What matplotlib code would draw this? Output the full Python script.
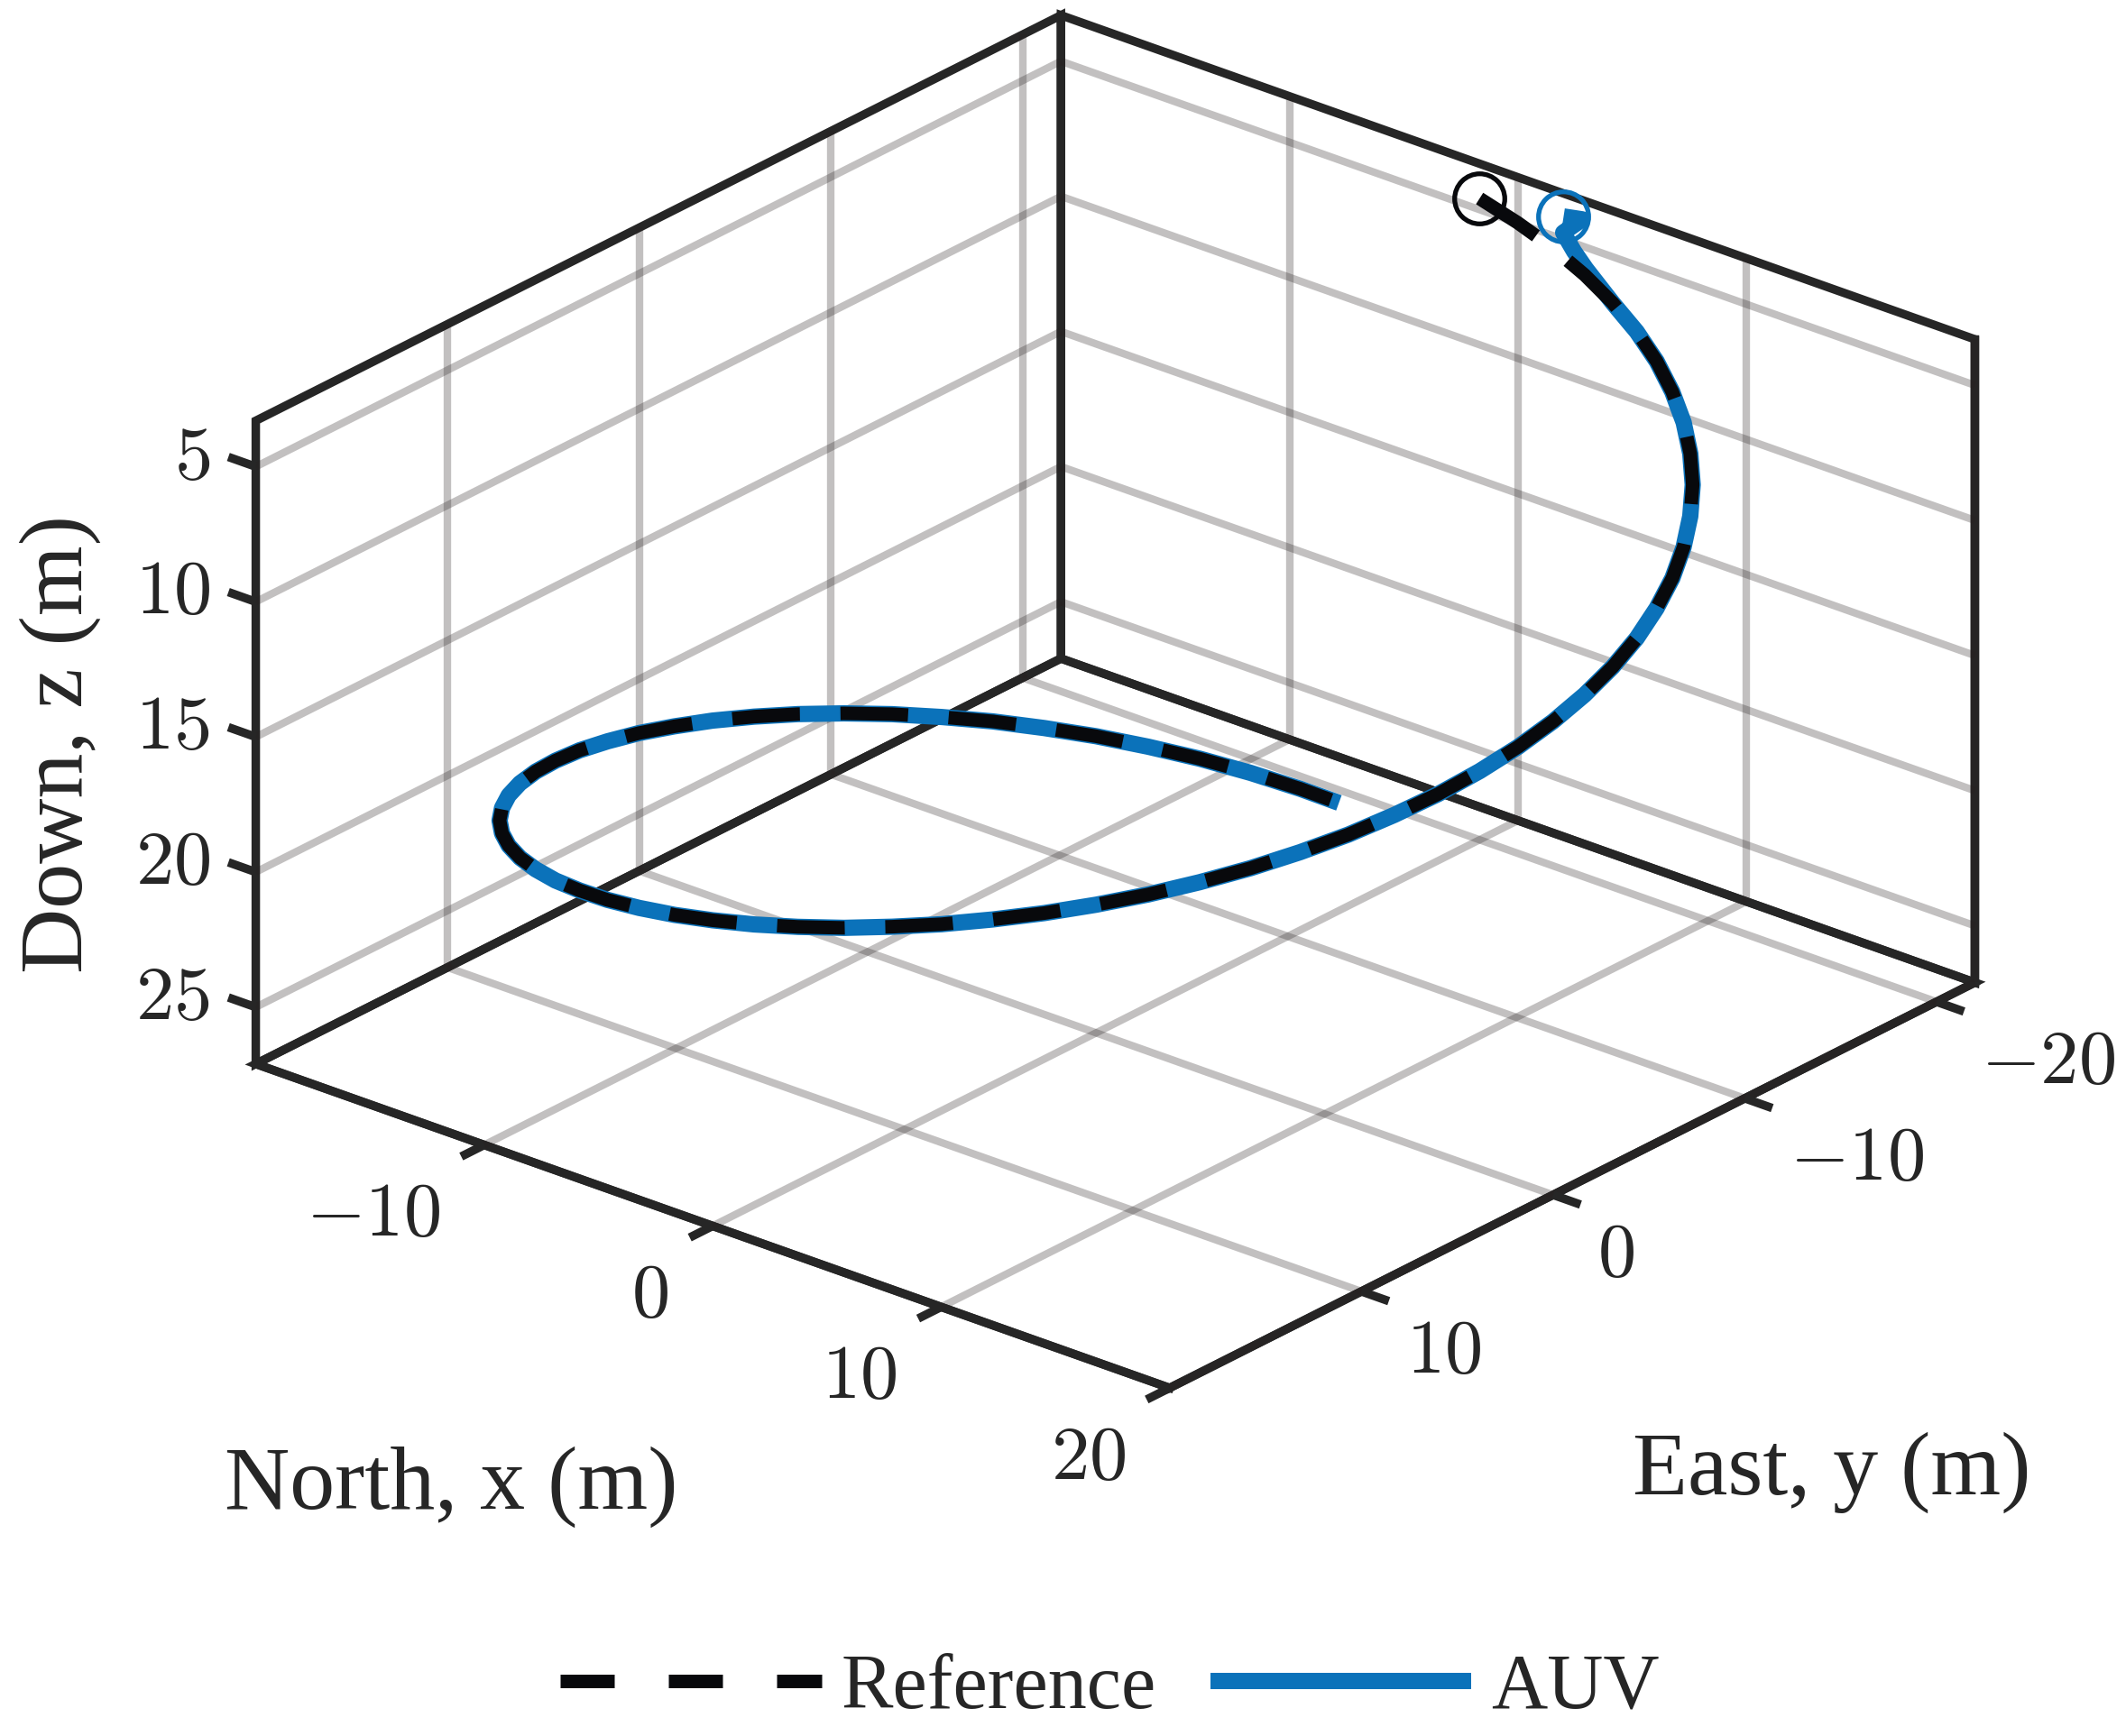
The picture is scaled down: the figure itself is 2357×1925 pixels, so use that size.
import numpy as np
import matplotlib
matplotlib.use("Agg")
import matplotlib.pyplot as plt
from matplotlib.lines import Line2D
from mpl_toolkits.mplot3d import proj3d

# ---------------- data ----------------
ref_x = [0.0, 1.74, 3.47, 5.18, 6.84, 8.45, 10.0, 11.47, 12.86, 14.14, 15.32, 16.38, 17.32,
         18.13, 18.79, 19.32, 19.70, 19.92, 20.0,
         19.92, 19.70, 19.32, 18.79, 18.13, 17.32, 16.38, 15.32, 14.14, 12.86, 11.47, 10.0,
         8.45, 6.84, 5.18, 3.47, 1.74, 0.0,
         -1.74, -3.47, -5.18, -6.84, -8.45, -10.0, -11.47, -12.86, -14.14, -15.32, -16.38,
         -17.32, -18.13, -18.79, -19.32, -19.70, -19.92, -20.0,
         -19.92, -19.70, -19.32, -18.79, -18.13, -17.32, -16.38, -15.32, -14.14, -12.86,
         -11.47, -10.0, -8.45, -6.84, -5.51]
ref_y = [-20.0, -19.92, -19.70, -19.32, -18.79, -18.13, -17.32, -16.38, -15.32, -14.14,
         -12.86, -11.47, -10.0, -8.45, -6.84, -5.18, -3.47, -1.74, 0.0,
         1.74, 3.47, 5.18, 6.84, 8.45, 10.0, 11.47, 12.86, 14.14, 15.32, 16.38, 17.32,
         18.13, 18.79, 19.32, 19.70, 19.92, 20.0,
         19.92, 19.70, 19.32, 18.79, 18.13, 17.32, 16.38, 15.32, 14.14, 12.86, 11.47, 10.0,
         8.45, 6.84, 5.18, 3.47, 1.74, 0.0,
         -1.74, -3.47, -5.18, -6.84, -8.45, -10.0, -11.47, -12.86, -14.14, -15.32, -16.38,
         -17.32, -18.13, -18.79, -19.23]
ref_z = [3.37, 3.72, 4.06, 4.41, 4.75, 5.10, 5.44, 5.79, 6.13, 6.48, 6.82, 7.17, 7.51,
         7.86, 8.20, 8.55, 8.89, 9.24, 9.58,
         9.93, 10.27, 10.62, 10.96, 11.31, 11.65, 12.00, 12.34, 12.69, 13.03, 13.38, 13.72,
         14.07, 14.41, 14.76, 15.10, 15.45, 15.79,
         16.14, 16.48, 16.83, 17.17, 17.52, 17.86, 18.21, 18.55, 18.90, 19.24, 19.59, 19.93,
         20.28, 20.62, 20.97, 21.31, 21.66, 22.00,
         22.35, 22.69, 23.04, 23.38, 23.73, 24.07, 24.42, 24.76, 25.11, 25.45, 25.80,
         26.14, 26.49, 26.83, 27.11]

# AUV initial transient, afterwards it tracks the reference
auv_start_x = [2.0, 2.9, 2.4, 3.3, 4.4]
auv_start_y = [-22.0, -21.9, -21.5, -21.0, -20.3]
auv_start_z = [4.15, 3.95, 4.45, 4.70, 4.75]
auv_x = auv_start_x + ref_x[4:]
auv_y = auv_start_y + ref_y[4:]
auv_z = auv_start_z + ref_z[4:]

x_ticks = [-10, 0, 10, 20]
y_ticks = [-20, -10, 0, 10]
z_ticks = [5, 10, 15, 20, 25]
x_ticklabels = ["$-10$", "$0$", "$10$", "$20$"]
y_ticklabels = ["$-20$", "$-10$", "$0$", "$10$"]
z_ticklabels = ["$5$", "$10$", "$15$", "$20$", "$25$"]

x_lim = (-20.0, 20.0)
y_lim = (-22.0, 20.0)
z_lim = (3.3, 27.1)

series_labels = ["Reference", "AUV"]
x_label = "North, x (m)"
y_label = "East, y (m)"
z_label = "Down, z (m)"

# ---------------- style ----------------
box_color = "#262626"
ref_color = "#08090c"
auv_color = "#0B72BA"
grid_rgba = (0.15, 0.12, 0.12, 0.28)
box_lw = 6.8
grid_lw = 6.0
tick_len = 1.2
tick_fs = 61
label_fs = 72

plt.rcParams["mathtext.fontset"] = "cm"
plt.rcParams["font.family"] = ["Liberation Serif", "DejaVu Serif"]
try:
    plt.rcParams["axes3d.automargin"] = False
except KeyError:
    pass

W_PX, H_PX = 2357, 1925
fig = plt.figure(figsize=(W_PX / 100, H_PX / 100), dpi=100)
fig.patch.set_facecolor("white")
ax = fig.add_axes([0.05, 0.1, 0.9, 0.85], projection="3d")
ax.computed_zorder = False
ax.set_proj_type("ortho")

x0, x1 = x_lim
y0, y1 = y_lim
z0, z1 = z_lim

# ---- grid on the three back planes (x = x0, y = y0, floor z = z1) ----
gkw = dict(color=grid_rgba, lw=grid_lw, solid_capstyle="butt", zorder=1)
for v in x_ticks:
    ax.plot([v, v], [y0, y1], [z1, z1], **gkw)
    ax.plot([v, v], [y0, y0], [z0, z1], **gkw)
for v in y_ticks:
    ax.plot([x0, x1], [v, v], [z1, z1], **gkw)
    ax.plot([x0, x0], [v, v], [z0, z1], **gkw)
for v in z_ticks:
    ax.plot([x0, x0], [y0, y1], [v, v], **gkw)
    ax.plot([x0, x1], [y0, y0], [v, v], **gkw)

# ---- tick marks (outward) ----
tkw = dict(color=box_color, lw=box_lw, solid_capstyle="butt", zorder=2)
for v in x_ticks:
    ax.plot([v, v], [y1, y1 + tick_len], [z1, z1], **tkw)
for v in y_ticks:
    ax.plot([x1, x1 + tick_len], [v, v], [z1, z1], **tkw)
for v in z_ticks:
    ax.plot([x0, x0 - tick_len], [y1, y1], [v, v], **tkw)

# ---- data ----
ax.plot(auv_x, auv_y, auv_z, color=auv_color, lw=13, solid_capstyle="butt",
        solid_joinstyle="round", zorder=3)
ax.plot(ref_x, ref_y, ref_z, color=ref_color, lw=10.8, linestyle=(0, (5, 3)),
        dash_capstyle="butt", zorder=4)
ax.plot(ref_x[:1], ref_y[:1], ref_z[:1], "o", ms=40, mfc="none", mec=ref_color,
        mew=3.8, zorder=5)
ax.plot(auv_x[:1], auv_y[:1], auv_z[:1], "o", ms=40, mfc="none", mec=auv_color,
        mew=3.8, zorder=5)

ax.set_xlim(*x_lim)
ax.set_ylim(*y_lim)
ax.set_zlim(*z_lim)
ax.invert_yaxis()
ax.invert_zaxis()
ax.set_box_aspect((x1 - x0, y1 - y0, z1 - z0))
ax.view_init(elev=25, azim=-50)

# the box itself: pane borders only (no matplotlib ticks / grid)
ax.set_xticks([])
ax.set_yticks([])
ax.set_zticks([])
for axis in (ax.xaxis, ax.yaxis, ax.zaxis):
    axis.pane.set_closed(True)
    axis.pane.set_alpha(None)
    axis.pane.set_facecolor((1, 1, 1, 0))
    axis.pane.set_edgecolor(box_color)
    axis.pane.set_linewidth(box_lw)
    axis.line.set_color(box_color)
    axis.line.set_linewidth(box_lw)
    axis._axinfo["axisline"]["color"] = box_color
    axis._axinfo["axisline"]["linewidth"] = box_lw
    axis.label.set_visible(False)

# ---------------- fit the projected box to the layout ----------------
tgt_l, tgt_r = 286.0, 2187.0
tgt_t, tgt_b = H_PX - 15.0, H_PX - 1541.0


def to_px(X, Y, Z):
    xs, ys, _ = proj3d.proj_transform(np.array([X], float), np.array([Y], float),
                                      np.array([Z], float), ax.M)
    return ax.transData.transform((xs[0], ys[0]))


def box_corners_px():
    fig.canvas.draw()
    return np.array([to_px(X, Y, Z) for X in x_lim for Y in y_lim for Z in z_lim])


for _ in range(4):
    P = box_corners_px()
    l, r = P[:, 0].min(), P[:, 0].max()
    b, t = P[:, 1].min(), P[:, 1].max()
    s = 0.5 * ((tgt_r - tgt_l) / (r - l) + (tgt_t - tgt_b) / (t - b))
    pos = ax.get_position(original=True)
    acx = (pos.x0 + pos.x1) / 2 * W_PX
    acy = (pos.y0 + pos.y1) / 2 * H_PX
    ncx = (tgt_l + tgt_r) / 2 - ((l + r) / 2 - acx) * s
    ncy = (tgt_t + tgt_b) / 2 - ((b + t) / 2 - acy) * s
    nw, nh = pos.width * s, pos.height * s
    ax.set_position([ncx / W_PX - nw / 2, ncy / H_PX - nh / 2, nw, nh])

fig.canvas.draw()

# ---------------- tick labels (MATLAB-like placement, as 2-D figure texts) ----------------
def tick_text(anchor, s_, ha):
    px, py = to_px(*anchor)
    fig.text(px / W_PX, py / H_PX, s_, ha=ha, va="center", fontsize=tick_fs,
             color=box_color)


for v, s_ in zip(x_ticks, x_ticklabels):
    tick_text((v, y1 + 2.3, z1 + 1.85), s_, "right")
for v, s_ in zip(y_ticks, y_ticklabels):
    tick_text((x1 + 1.95, v, z1 + 1.75), s_, "left")
for v, s_ in zip(z_ticks, z_ticklabels):
    tick_text((x0 - 2.0, y1, v + 0.35), s_, "right")

# ---------------- axis labels & legend ----------------
fig.text(0.0284, 0.5714, z_label, rotation=90, ha="center", va="center",
         fontsize=label_fs, color=box_color)
fig.text(0.2124, 0.1435, x_label, ha="center", va="center", fontsize=label_fs,
         color=box_color)
fig.text(0.8617, 0.1520, y_label, ha="center", va="center", fontsize=label_fs,
         color=box_color)

h_ref = Line2D([], [], color=ref_color, lw=10.8, linestyle=(0, (4, 4)),
               dash_capstyle="butt")
h_auv = Line2D([], [], color=auv_color, lw=13, solid_capstyle="butt")
fig.legend([h_ref, h_auv], series_labels, loc="center", bbox_to_anchor=(0.522, 0.027),
           ncol=2, frameon=False, fontsize=62, handlelength=3.36, handletextpad=0.25,
           columnspacing=0.7, labelcolor=box_color)

fig.savefig("out.png", dpi=100, facecolor="white")
